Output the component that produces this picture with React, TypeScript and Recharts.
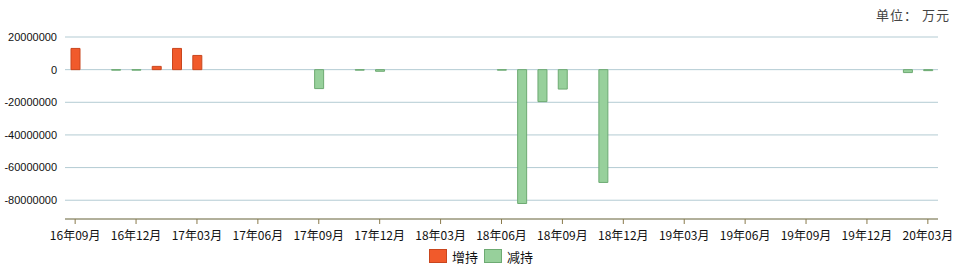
import React from 'react';
import { BarChart, Bar, XAxis, YAxis, CartesianGrid, Legend } from 'recharts';

// months on the category axis
const months = [
  '16年09月', '16年10月', '16年11月', '16年12月', '17年01月', '17年02月', '17年03月',
  '17年04月', '17年05月', '17年06月', '17年07月', '17年08月', '17年09月', '17年10月',
  '17年11月', '17年12月', '18年01月', '18年02月', '18年03月', '18年04月', '18年05月',
  '18年06月', '18年07月', '18年08月', '18年09月', '18年10月', '18年11月', '18年12月',
  '19年01月', '19年02月', '19年03月', '19年04月', '19年05月', '19年06月', '19年07月',
  '19年08月', '19年09月', '19年10月', '19年11月', '19年12月', '20年01月', '20年02月',
  '20年03月',
];

// 增持 (increase), 万元
const increase = [
  13000000, 0, 0, 0, 2000000, 13000000, 8700000,
  0, 0, 0, 0, 0, 0, 0,
  0, 0, 0, 0, 0, 0, 0,
  0, 0, 0, 0, 0, 0, 0,
  0, 0, 0, 0, 0, 0, 0,
  0, 0, 0, 0, 0, 0, 0,
  0,
];

// 减持 (decrease), 万元
const decrease = [
  0, 0, -300000, -300000, 0, 0, 0,
  0, 0, 0, 0, 0, -11600000, 0,
  -300000, -1000000, 0, 0, 0, 0, 0,
  -300000, -82000000, -19600000, -11900000, 0, -69100000, 0,
  0, 0, 0, 0, 0, 0, 0,
  0, 0, 0, 0, 0, 0, -1800000,
  -600000,
];

const yTicks = [20000000, 0, -20000000, -40000000, -60000000, -80000000];

const data = months.map((m, i) => ({ month: m, inc: increase[i], dec: decrease[i] }));

const UP = '#F15A2B';
const UP_EDGE = '#C9461E';
const DOWN = '#97D09B';
const DOWN_EDGE = '#6DAA72';

const legendItems = [
  { label: '增持', fill: UP, edge: UP_EDGE },
  { label: '减持', fill: DOWN, edge: DOWN_EDGE },
];

const LegendBox = () => (
  <div style={{ display: 'flex', justifyContent: 'center', height: 20, alignItems: 'flex-start', paddingLeft: 30 }}>
    {legendItems.map((it) => (
      <div key={it.label} style={{ display: 'flex', alignItems: 'center', marginRight: 6, height: 14 }}>
        <span style={{ display: 'inline-block', width: 16, height: 12, background: it.fill, border: `1px solid ${it.edge}`, marginRight: 5 }} />
        <span style={{ fontSize: 13, color: '#111', fontFamily: '"Noto Sans CJK SC", sans-serif' }}>{it.label}</span>
      </div>
    ))}
  </div>
);

const App = () => {
  return (
    <div style={{ position: 'absolute', left: 0, top: 0, width: 959, height: 278, background: '#fff' }}>
      <div style={{ position: 'absolute', right: 9, top: 5, fontSize: 13, letterSpacing: 1, color: '#444', fontFamily: '"Noto Sans CJK SC", serif' }}>
        单位：&nbsp;万元
      </div>
      <BarChart width={959} height={278} data={data} margin={{ top: 37, right: 21, left: 0, bottom: 9 }}>
        <CartesianGrid vertical={false} stroke="#B3CBD3" />
        <XAxis
          dataKey="month"
          interval={2}
          stroke="#8A7A4C"
          tickSize={5}
          tickMargin={7}
          height={30}
          tick={{ fontSize: 12, fill: '#111', fontFamily: '"Noto Sans CJK SC", sans-serif' }}
        />
        <YAxis
          width={65}
          domain={[-91500000, 20000000]}
          ticks={yTicks}
          allowDataOverflow
          axisLine={false}
          tickLine={false}
          tick={{ fontSize: 11, fill: '#111', fontFamily: '"Liberation Sans", Arial, sans-serif' }}
        />
        <Legend verticalAlign="bottom" content={<LegendBox />} />
        <Bar dataKey="inc" name="增持" stackId="s" barSize={9} fill={UP} stroke={UP_EDGE} isAnimationActive={false} />
        <Bar dataKey="dec" name="减持" stackId="s" barSize={9} fill={DOWN} stroke={DOWN_EDGE} isAnimationActive={false} />
      </BarChart>
    </div>
  );
};

export default App;
